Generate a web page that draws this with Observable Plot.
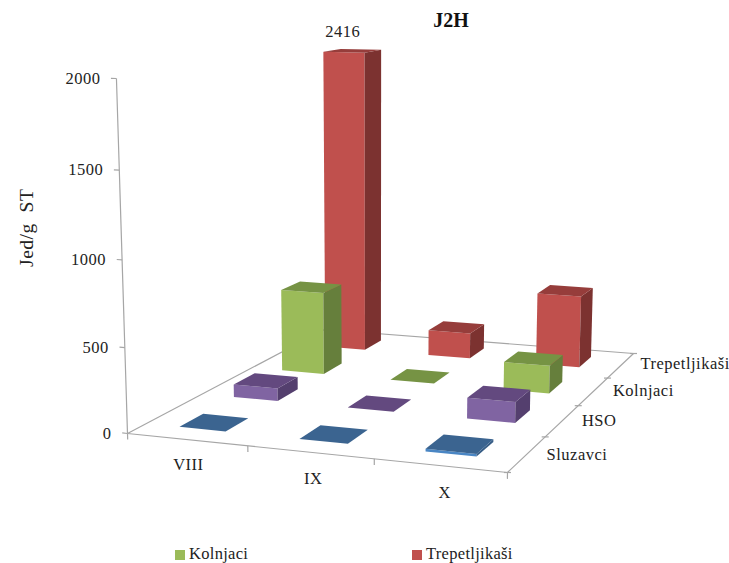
<!DOCTYPE html>
<html><head><meta charset="utf-8">
<script src="https://cdn.jsdelivr.net/npm/d3@7"></script>
<script src="https://cdn.jsdelivr.net/npm/@observablehq/plot@0.6"></script>
<style>
html,body{margin:0;padding:0;background:#fff}
#wrap{position:relative;width:729px;height:563px;overflow:hidden;font-family:"Liberation Serif",serif;color:#111}
#title{position:absolute;left:401px;width:100px;top:9px;text-align:center;font-weight:bold;font-size:20px}
#legend{position:absolute;top:545px;left:0;width:729px;height:18px;font-size:16.5px;line-height:18px}
#legend span{position:absolute;top:0;white-space:nowrap;letter-spacing:.3px;color:#222}
#legend i{position:absolute;width:10px;height:10px;top:5px}
svg{display:block}
</style></head><body>
<div id="wrap"><div id="chart"></div><div id="title">J2H</div><div id="legend"></div></div>
<script>
const categories = ["VIII","IX","X"];
const seriesNames = ["Sluzavci","HSO","Kolnjaci","Trepetljikaši"];
const sluzavci = [0,0,15];
const hso = [78,0,125];
const kolnjaci = [530,0,175];
const trepetljikasi = [2416,170,470];
const valueTicks = [0,500,1000,1500,2000];
const axisMax = 2000;
const legendNames = ["Kolnjaci","Trepetljikaši"];
const values = [sluzavci,hso,kolnjaci,trepetljikasi];

const palette = [
 {front:"#4a86c4",top:"#3b6490",side:"#375d86"},
 {front:"#8064a2",top:"#63497f",side:"#543f6e"},
 {front:"#9bbb59",top:"#769344",side:"#667f3c"},
 {front:"#c0504d",top:"#963d3b",side:"#7c3230"}
];

const fl=[127,433], fr=[507,472], br=[633,353], bl=[324,329];
const vanish=[375,8400], topShift=-0.04266;
const sx=fl[0]-fr[0]+br[0]-bl[0], sy=fl[1]-fr[1]+br[1]-bl[1];
const dx1=fr[0]-br[0], dx2=bl[0]-br[0], dy1=fr[1]-br[1], dy2=bl[1]-br[1];
const den=dx1*dy2-dx2*dy1;
const g=(sx*dy2-dx2*sy)/den, h=(dx1*sy-sx*dy1)/den;
const a=fr[0]-fl[0]+g*fr[0], b=bl[0]-fl[0]+h*bl[0];
const d=fr[1]-fl[1]+g*fr[1], e=bl[1]-fl[1]+h*bl[1];
function proj(cat,ser,val){
  const u=cat/categories.length, v=ser/seriesNames.length, t=topShift*val/axisMax;
  const q=g*u+h*v+1+t;
  return {x:(a*u+b*v+fl[0]+t*vanish[0])/q, y:(d*u+e*v+fl[1]+t*vanish[1])/q};
}
const halfU=0.195, halfV=0.21;
const faces=[];
function face(id,color,pts){pts.forEach(p=>{const q=proj(...p);faces.push({id,color,x:q.x,y:q.y});});}
for(let s=seriesNames.length-1;s>=0;s--){
  for(let c=0;c<categories.length;c++){
    const w=Math.min(values[s][c],axisMax), cu=c+.48, cv=s+.52;
    const u0=cu-halfU,u1=cu+halfU,v0=cv-halfV,v1=cv+halfV, p=palette[s], k=`${s}-${c}`;
    if(w>0){
      face(k+"f",p.front,[[u0,v0,0],[u1,v0,0],[u1,v0,w],[u0,v0,w]]);
      face(k+"s",p.side,[[u1,v0,0],[u1,v1,0],[u1,v1,w],[u1,v0,w]]);
    }
    face(k+"t",p.top,[[u0,v0,w],[u1,v0,w],[u1,v1,w],[u0,v1,w]]);
  }
}
const nC=categories.length,nS=seriesNames.length;
const seg=([p,q])=>{const A=proj(...p),B=proj(...q);return {x1:A.x,y1:A.y,x2:B.x,y2:B.y};};
const axisSeg=[
 [[0,0,0],[0,0,axisMax]],[[0,0,0],[nC,0,0]],[[nC,0,0],[nC,nS,0]],[[nC,nS,0],[0,nS,0]],[[0,nS,0],[0,0,0]],
 ...valueTicks.map(t=>[[0,0,t],[-0.045,0,t]]),
 ...d3.range(0,nC+1).map(c=>[[c,0,0],[c,0,-35]])
].map(seg);
const serTicks=d3.range(0,nS+1).map(s=>proj(nC,s,0));

const valueLabels=valueTicks.map(t=>({...proj(0,0,t),t:String(t)}));
const catLabels=categories.map((n,i)=>({...proj(i*.96+.83,-0.65,0),n}));
const serLabels=seriesNames.map((n,i)=>({...proj(nC+0.1,i+.32,0),n}));
const clipped=[{...proj(.5,3.5,axisMax),n:String(trepetljikasi[0])}];
const yTitle=[{...proj(0,0,1180),n:"Jed/g  ST"}];

const plot=Plot.plot({
  width:729,height:540,margin:0,
  style:{background:"#fff",fontFamily:"Liberation Serif"},
  x:{domain:[0,729],range:[0,729],axis:null},
  y:{domain:[0,540],range:[0,540],axis:null},
  color:{type:"identity"},
  marks:[
    Plot.link(axisSeg,{x1:"x1",y1:"y1",x2:"x2",y2:"y2",stroke:"#a6a6a6",strokeWidth:1.2}),
    Plot.dot(serTicks,{x:"x",y:"y",symbol:{draw(c){c.moveTo(-3.5,0);c.lineTo(3.5,0);}},r:3,stroke:"#a6a6a6",strokeWidth:1.2}),
    Plot.line(faces,{x:"x",y:"y",z:"id",fill:"color",stroke:"none"}),
    Plot.text(valueLabels,{x:"x",y:"y",text:"t",textAnchor:"end",dx:-16,fontSize:16.5,fill:"#222"}),
    Plot.text(catLabels,{x:"x",y:"y",text:"n",dy:-2,fontSize:16.5,fill:"#222"}),
    Plot.text(serLabels,{x:"x",y:"y",text:"n",textAnchor:"start",dx:13,dy:-7,fontSize:16.5,fill:"#222"}),
    Plot.text(clipped,{x:"x",y:"y",text:"n",dx:-11,dy:-19,fontSize:16.5,fill:"#222"}),
    Plot.text(yTitle,{x:"x",y:"y",text:"n",rotate:-90,dx:-94,fontSize:19.5,fill:"#222"})
  ]
});
plot.querySelectorAll("text").forEach(t=>{t.style.letterSpacing=".5px";});
document.getElementById("chart").appendChild(plot);
const lg=document.getElementById("legend");
const legendX=[175,412];
legendNames.forEach((n,i)=>{
  const sw=document.createElement("i");sw.style.left=legendX[i]+"px";
  sw.style.background=palette[seriesNames.indexOf(n)].front;lg.appendChild(sw);
  const sp=document.createElement("span");sp.style.left=(legendX[i]+14)+"px";sp.textContent=n;lg.appendChild(sp);
});
</script></body></html>
